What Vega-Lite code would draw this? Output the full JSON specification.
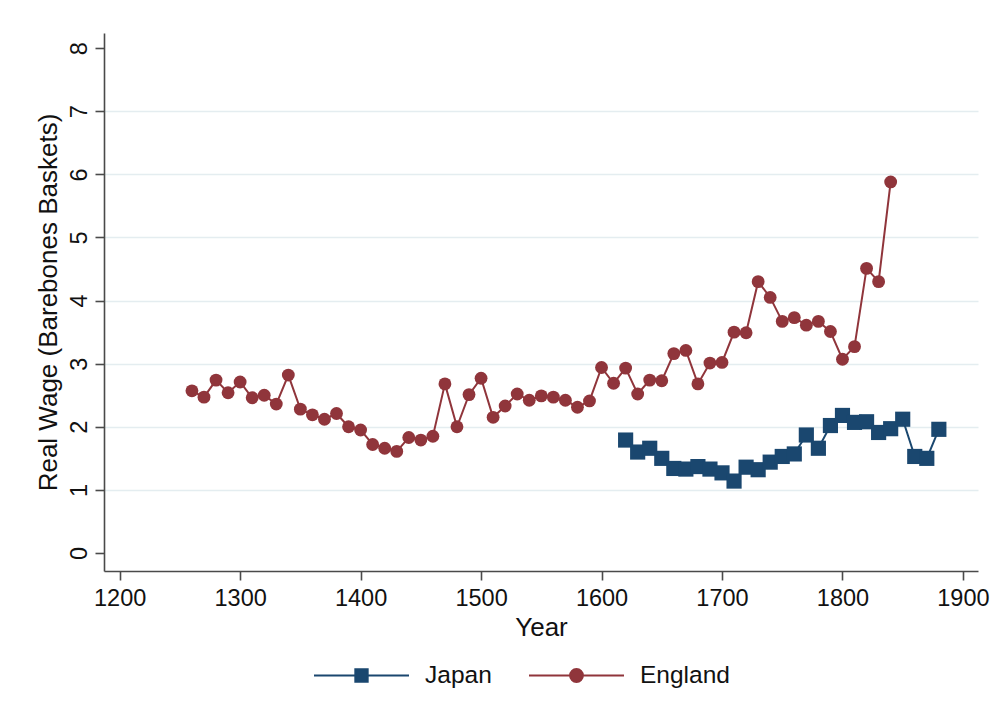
{
  "$schema": "https://vega.github.io/schema/vega-lite/v6.json",
  "width": 874,
  "height": 538,
  "autosize": {"type": "none"},
  "padding": {"left": 104, "top": 33, "right": 17, "bottom": 157},
  "background": "white",
  "config": {
    "view": {"stroke": null},
    "font": "Liberation Sans",
    "axis": {
      "labelFont": "Liberation Sans",
      "titleFont": "Liberation Sans",
      "labelFontSize": 23.5,
      "titleFontSize": 26,
      "labelColor": "#111111",
      "titleColor": "#111111",
      "titleFontWeight": "normal",
      "domainColor": "#4a4a4a",
      "domainWidth": 1.6,
      "tickColor": "#4a4a4a",
      "tickWidth": 1.6,
      "tickSize": 9
    },
    "legend": {
      "labelFont": "Liberation Sans",
      "labelFontSize": 24.5,
      "labelColor": "#111111"
    }
  },
  "data": {
    "values": [
      {"country": "England", "year": 1260, "wage": 2.57},
      {"country": "England", "year": 1270, "wage": 2.47},
      {"country": "England", "year": 1280, "wage": 2.74},
      {"country": "England", "year": 1290, "wage": 2.54},
      {"country": "England", "year": 1300, "wage": 2.71},
      {"country": "England", "year": 1310, "wage": 2.46},
      {"country": "England", "year": 1320, "wage": 2.5},
      {"country": "England", "year": 1330, "wage": 2.36},
      {"country": "England", "year": 1340, "wage": 2.82},
      {"country": "England", "year": 1350, "wage": 2.28},
      {"country": "England", "year": 1360, "wage": 2.19},
      {"country": "England", "year": 1370, "wage": 2.12},
      {"country": "England", "year": 1380, "wage": 2.21},
      {"country": "England", "year": 1390, "wage": 2.0},
      {"country": "England", "year": 1400, "wage": 1.95},
      {"country": "England", "year": 1410, "wage": 1.72},
      {"country": "England", "year": 1420, "wage": 1.66},
      {"country": "England", "year": 1430, "wage": 1.61},
      {"country": "England", "year": 1440, "wage": 1.83},
      {"country": "England", "year": 1450, "wage": 1.79},
      {"country": "England", "year": 1460, "wage": 1.85},
      {"country": "England", "year": 1470, "wage": 2.68},
      {"country": "England", "year": 1480, "wage": 2.0},
      {"country": "England", "year": 1490, "wage": 2.51},
      {"country": "England", "year": 1500, "wage": 2.77},
      {"country": "England", "year": 1510, "wage": 2.15},
      {"country": "England", "year": 1520, "wage": 2.33},
      {"country": "England", "year": 1530, "wage": 2.52},
      {"country": "England", "year": 1540, "wage": 2.42},
      {"country": "England", "year": 1550, "wage": 2.49},
      {"country": "England", "year": 1560, "wage": 2.47},
      {"country": "England", "year": 1570, "wage": 2.42},
      {"country": "England", "year": 1580, "wage": 2.31},
      {"country": "England", "year": 1590, "wage": 2.41},
      {"country": "England", "year": 1600, "wage": 2.94},
      {"country": "England", "year": 1610, "wage": 2.69},
      {"country": "England", "year": 1620, "wage": 2.93},
      {"country": "England", "year": 1630, "wage": 2.52},
      {"country": "England", "year": 1640, "wage": 2.74},
      {"country": "England", "year": 1650, "wage": 2.73},
      {"country": "England", "year": 1660, "wage": 3.16},
      {"country": "England", "year": 1670, "wage": 3.21},
      {"country": "England", "year": 1680, "wage": 2.68},
      {"country": "England", "year": 1690, "wage": 3.01},
      {"country": "England", "year": 1700, "wage": 3.02},
      {"country": "England", "year": 1710, "wage": 3.5},
      {"country": "England", "year": 1720, "wage": 3.49},
      {"country": "England", "year": 1730, "wage": 4.3},
      {"country": "England", "year": 1740, "wage": 4.05},
      {"country": "England", "year": 1750, "wage": 3.67},
      {"country": "England", "year": 1760, "wage": 3.73},
      {"country": "England", "year": 1770, "wage": 3.61},
      {"country": "England", "year": 1780, "wage": 3.67},
      {"country": "England", "year": 1790, "wage": 3.51},
      {"country": "England", "year": 1800, "wage": 3.07},
      {"country": "England", "year": 1810, "wage": 3.27},
      {"country": "England", "year": 1820, "wage": 4.51},
      {"country": "England", "year": 1830, "wage": 4.3},
      {"country": "England", "year": 1840, "wage": 5.88},
      {"country": "Japan", "year": 1620, "wage": 1.79},
      {"country": "Japan", "year": 1630, "wage": 1.6},
      {"country": "Japan", "year": 1640, "wage": 1.66},
      {"country": "Japan", "year": 1650, "wage": 1.5},
      {"country": "Japan", "year": 1660, "wage": 1.34},
      {"country": "Japan", "year": 1670, "wage": 1.33},
      {"country": "Japan", "year": 1680, "wage": 1.37},
      {"country": "Japan", "year": 1690, "wage": 1.33},
      {"country": "Japan", "year": 1700, "wage": 1.27},
      {"country": "Japan", "year": 1710, "wage": 1.14},
      {"country": "Japan", "year": 1720, "wage": 1.36},
      {"country": "Japan", "year": 1730, "wage": 1.32},
      {"country": "Japan", "year": 1740, "wage": 1.44},
      {"country": "Japan", "year": 1750, "wage": 1.53},
      {"country": "Japan", "year": 1760, "wage": 1.57},
      {"country": "Japan", "year": 1770, "wage": 1.87},
      {"country": "Japan", "year": 1780, "wage": 1.66},
      {"country": "Japan", "year": 1790, "wage": 2.02},
      {"country": "Japan", "year": 1800, "wage": 2.18},
      {"country": "Japan", "year": 1810, "wage": 2.07},
      {"country": "Japan", "year": 1820, "wage": 2.08},
      {"country": "Japan", "year": 1830, "wage": 1.91},
      {"country": "Japan", "year": 1840, "wage": 1.97},
      {"country": "Japan", "year": 1850, "wage": 2.12},
      {"country": "Japan", "year": 1860, "wage": 1.53},
      {"country": "Japan", "year": 1870, "wage": 1.5},
      {"country": "Japan", "year": 1880, "wage": 1.96}
    ]
  },
  "encoding": {
    "x": {
      "field": "year",
      "type": "quantitative",
      "scale": {"domain": [1187, 1912.5], "nice": false, "zero": false},
      "axis": {
        "title": "Year",
        "values": [1200, 1300, 1400, 1500, 1600, 1700, 1800, 1900],
        "format": "d",
        "grid": false,
        "labelPadding": 6,
        "titlePadding": 5
      }
    },
    "y": {
      "field": "wage",
      "type": "quantitative",
      "scale": {"domain": [-0.285, 8.24], "nice": false, "zero": false},
      "axis": {
        "title": "Real Wage (Barebones Baskets)",
        "values": [0, 1, 2, 3, 4, 5, 6, 7, 8],
        "labelAngle": -90,
        "labelAlign": "center",
        "labelBaseline": "alphabetic",
        "labelPadding": 9,
        "titlePadding": 6,
        "grid": true,
        "gridColor": "#e4edf0",
        "gridWidth": 1.6,
        "gridOpacity": {"condition": {"test": "datum.value === 0 || datum.value === 8", "value": 0}, "value": 1}
      }
    },
    "color": {
      "field": "country",
      "type": "nominal",
      "scale": {"domain": ["Japan", "England"], "range": ["#1a476f", "#90353b"]},
      "legend": {
        "title": null,
        "orient": "none",
        "legendX": 209,
        "legendY": 594,
        "direction": "horizontal",
        "symbolSize": 9025,
        "labelOffset": 15,
        "columnPadding": 33,
        "encoding": {
          "symbols": {
            "shape": {"condition": {"test": "datum.value === 'Japan'", "value": "M-1,0L-0.13,0M0.13,0L1,0M-0.13,-0.13L0.13,-0.13L0.13,0.13L-0.13,0.13Z"}, "value": "M-1,0L-0.135,0M0.135,0L1,0M-0.135,0A0.135,0.135,0,1,0,0.135,0A0.135,0.135,0,1,0,-0.135,0Z"},
            "stroke": {"condition": {"test": "datum.value === 'Japan'", "value": "#1a476f"}, "value": "#90353b"},
            "fill": {"condition": {"test": "datum.value === 'Japan'", "value": "#1a476f"}, "value": "#90353b"},
            "strokeWidth": {"value": 2},
            "opacity": {"value": 1},
            "fillOpacity": {"value": 1},
            "strokeOpacity": {"value": 1}
          }
        }
      }
    }
  },
  "layer": [
    {
      "mark": {"type": "line", "strokeWidth": 2}
    },
    {
      "transform": [{"filter": "datum.country === 'Japan'"}],
      "mark": {"type": "point", "filled": true, "opacity": 1, "shape": "square", "size": 230}
    },
    {
      "transform": [{"filter": "datum.country === 'England'"}],
      "mark": {"type": "point", "filled": true, "opacity": 1, "shape": "circle", "size": 165}
    }
  ]
}
